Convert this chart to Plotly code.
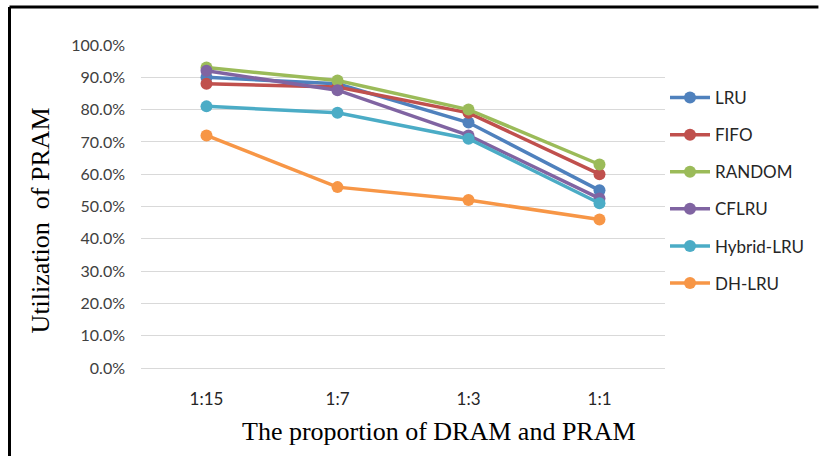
import plotly.graph_objects as go

categories = ["1:15", "1:7", "1:3", "1:1"]
series_names = ["LRU", "FIFO", "RANDOM", "CFLRU", "Hybrid-LRU", "DH-LRU"]
lru = [0.90, 0.88, 0.76, 0.55]
fifo = [0.88, 0.87, 0.79, 0.60]
random_ = [0.93, 0.89, 0.80, 0.63]
cflru = [0.92, 0.86, 0.72, 0.525]
hybrid = [0.81, 0.79, 0.71, 0.51]
dhlru = [0.72, 0.56, 0.52, 0.46]
colors = ["#4F81BD", "#C0504D", "#9BBB59", "#8064A2", "#4BACC6", "#F79646"]
y_ticks = [i / 10 for i in range(11)]

W, H = 821, 456
L, R, T, B = 141, 154, 45, 88

fig = go.Figure()
for name, vals, c in zip(series_names, [lru, fifo, random_, cflru, hybrid, dhlru], colors):
    fig.add_trace(go.Scatter(
        x=categories, y=vals, name=name, mode="lines+markers",
        line=dict(color=c, width=3.5),
        marker=dict(color=c, size=12),
        legendgroup=name,
    ))

fig.update_layout(
    width=W, height=H,
    margin=dict(l=L, r=R, t=T, b=B),
    paper_bgcolor="white", plot_bgcolor="white",
    font=dict(family="Lato", size=15, color="#404040"),
    legend=dict(
        x=1.0, xanchor="left", y=0.5 + (206 - 190) / (H - T - B), yanchor="middle",
        font=dict(family="Lato", size=17, color="#262626"),
        tracegroupgap=12, itemwidth=40, bgcolor="rgba(0,0,0,0)",
    ),
    xaxis=dict(
        type="category", range=[-0.5, 3.5], showgrid=False, showline=True,
        linecolor="#D9D9D9", linewidth=1,
        ticks="", ticklabelstandoff=16, tickfont=dict(family="Lato", size=17, color="#262626"),
        zeroline=False,
    ),
    yaxis=dict(
        range=[0, 1.0], tickvals=y_ticks, tickformat=".1%", showgrid=True,
        gridcolor="#D9D9D9", gridwidth=1, zeroline=False, showline=False,
        ticks="", ticklabelstandoff=15, tickfont=dict(family="Lato", size=16, color="#404040"),
    ),
    annotations=[
        dict(text="The proportion of DRAM and PRAM", xref="paper", yref="paper",
             x=(440 - L) / (W - L - R), y=-(431 - (H - B)) / (H - T - B),
             xanchor="center", yanchor="middle", showarrow=False,
             font=dict(family="Liberation Serif", size=26, color="#000000")),
        dict(text="Utilization  of PRAM", xref="paper", yref="paper",
             x=-(L - 40) / (W - L - R), y=1 - (220 - T) / (H - T - B),
             xanchor="center", yanchor="middle", showarrow=False, textangle=-90,
             font=dict(family="Liberation Serif", size=26, color="#000000")),
    ],
    shapes=[
        dict(type="line", xref="paper", yref="paper",
             x0=-(L - 9) / (W - L - R), x1=(W - L) / (W - L - R),
             y0=1 + (T - 7) / (H - T - B), y1=1 + (T - 7) / (H - T - B),
             line=dict(color="black", width=3)),
        dict(type="line", xref="paper", yref="paper",
             x0=-(L - 9) / (W - L - R), x1=-(L - 9) / (W - L - R),
             y0=1 + (T - 7) / (H - T - B), y1=-B / (H - T - B),
             line=dict(color="black", width=3)),
    ],
)

fig.write_html("out.html")
